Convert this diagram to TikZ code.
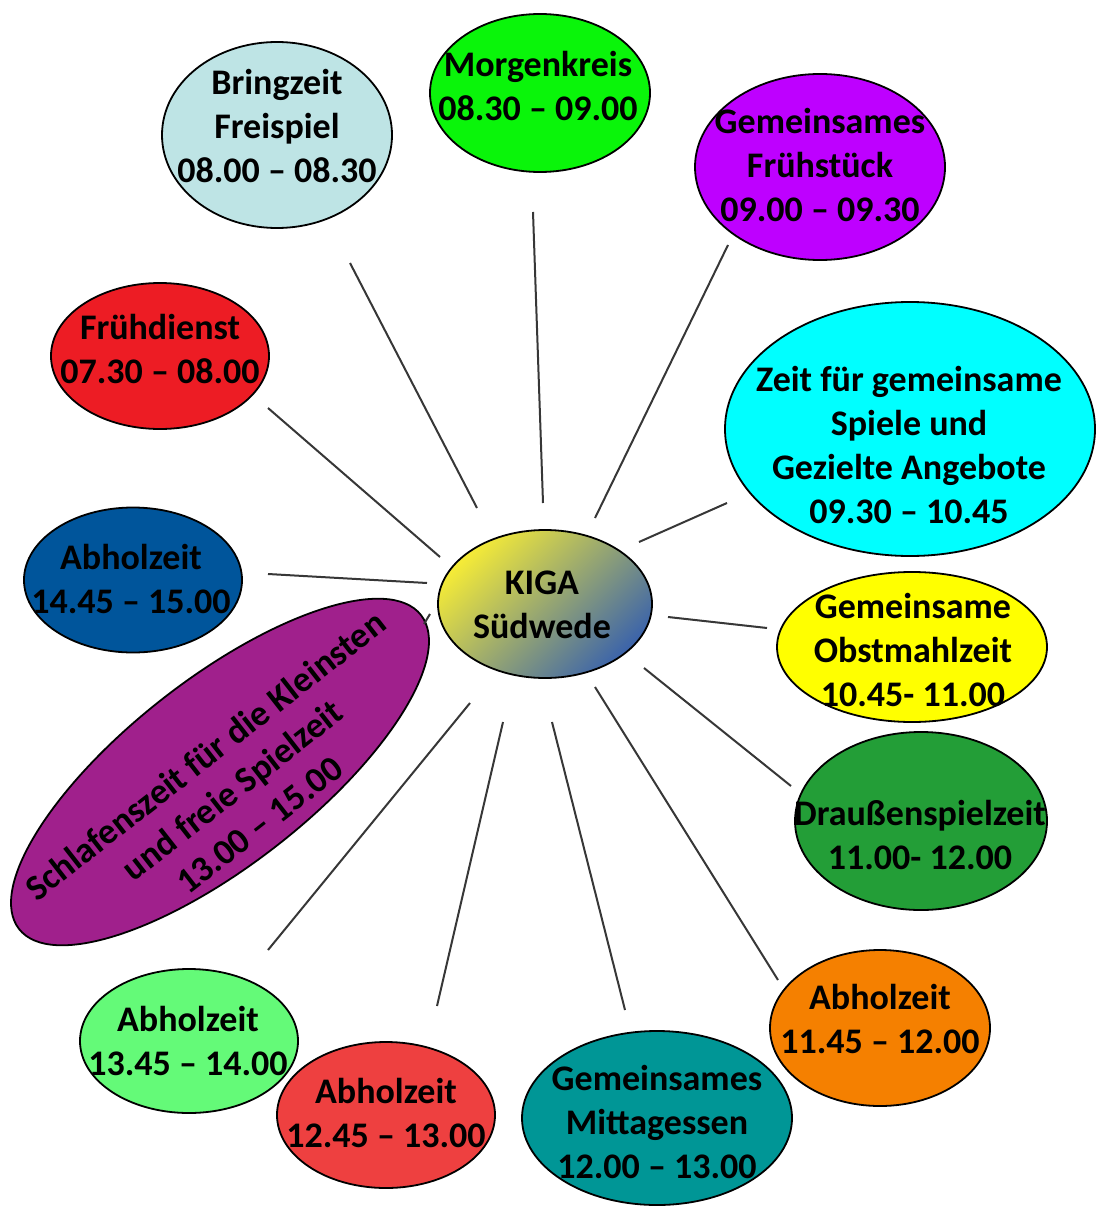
\documentclass[tikz,border=0pt]{standalone}
\usepackage{fontspec}
\setmainfont{Carlito}
\usetikzlibrary{shapes.geometric}
\definecolor{cBring}{RGB}{190,228,229}
\definecolor{cMorgen}{RGB}{10,245,10}
\definecolor{cFrueh}{RGB}{190,0,255}
\definecolor{cZeit}{RGB}{0,255,255}
\definecolor{cObst}{RGB}{255,255,0}
\definecolor{cDraussen}{RGB}{35,158,55}
\definecolor{cAbOrange}{RGB}{245,128,0}
\definecolor{cMittag}{RGB}{0,150,150}
\definecolor{cAbRed}{RGB}{238,64,64}
\definecolor{cAbGreen}{RGB}{100,250,120}
\definecolor{cSchlaf}{RGB}{160,32,140}
\definecolor{cAbBlue}{RGB}{0,85,155}
\definecolor{cFruehdienst}{RGB}{237,28,36}
\definecolor{cKigaY}{RGB}{245,235,55}
\definecolor{cKigaM}{RGB}{210,205,115}
\definecolor{cKigaB}{RGB}{60,100,170}
\definecolor{cLine}{RGB}{55,55,55}
\begin{document}
\begin{tikzpicture}[x=1pt,y=-1pt,
  bub/.style={ellipse, draw=black, line width=1.8pt, inner sep=0pt, outer sep=0pt},
  lbl/.style={align=center, inner sep=0pt, text=black, font=\fontsize{36}{44}\selectfont\bfseries},
  conn/.style={draw=cLine, line width=2pt}]
\useasboundingbox (0,0) rectangle (1095,1206);

% bubbles
\node[bub, fill=cBring, minimum width=230pt, minimum height=186pt] (bring) at (277,135) {};
\node[bub, fill=cMorgen, minimum width=220pt, minimum height=158pt] (morgen) at (540,93) {};
\node[bub, fill=cFrueh, minimum width=250pt, minimum height=186pt] (frueh) at (820,167) {};
\node[bub, fill=cZeit, minimum width=370pt, minimum height=254pt] (zeit) at (910,429) {};
\node[bub, fill=cObst, minimum width=270pt, minimum height=150pt] (obst) at (912,647) {};
\node[bub, fill=cDraussen, minimum width=252pt, minimum height=178pt] (draussen) at (921,821) {};
\node[bub, fill=cAbOrange, minimum width=220pt, minimum height=156pt] (ab1145) at (880,1028) {};
\node[bub, fill=cMittag, minimum width=270pt, minimum height=174pt] (mittag) at (657,1118) {};
\node[bub, fill=cAbRed, minimum width=218pt, minimum height=146pt] (ab1245) at (386,1115) {};
\node[bub, fill=cAbGreen, minimum width=218pt, minimum height=144pt] (ab1345) at (189,1041) {};
\node[bub, fill=cSchlaf, minimum width=510pt, minimum height=186pt, rotate=38] (schlaf) at (220,772) {};
\node[bub, fill=cAbBlue, minimum width=218pt, minimum height=145pt] (ab1445) at (133,580) {};
\node[bub, fill=cFruehdienst, minimum width=218pt, minimum height=146pt] (fruehdienst) at (160,356) {};
\node[bub, top color=cKigaY, middle color=cKigaM, bottom color=cKigaB, shading angle=45,
      minimum width=214pt, minimum height=148pt] (kiga) at (545,604) {};

% texts
\node[lbl] (tbring) at (277,126) {Bringzeit\\Freispiel\\08.00 – 08.30};
\node[lbl] (tmorgen) at (538,86) {Morgenkreis\\08.30 – 09.00};
\node[lbl] (tfrueh) at (820,165) {Gemeinsames\\Frühstück\\09.00 – 09.30};
\node[lbl] (tzeit) at (909,445) {Zeit für gemeinsame\\Spiele und\\Gezielte Angebote\\09.30 – 10.45};
\node[lbl] (tobst) at (913,650) {Gemeinsame\\Obstmahlzeit\\10.45- 11.00};
\node[lbl] (tdraussen) at (920,835) {Draußenspielzeit\\11.00- 12.00};
\node[lbl] (tab1145) at (880,1019) {Abholzeit\\11.45 – 12.00};
\node[lbl] (tmittag) at (657,1122) {Gemeinsames\\Mittagessen\\12.00 – 13.00};
\node[lbl] (tab1245) at (386,1113) {Abholzeit\\12.45 – 13.00};
\node[lbl] (tab1345) at (188,1041) {Abholzeit\\13.45 – 14.00};
\node[lbl, rotate=38] (tschlaf) at (232,790) {Schlafenszeit für die Kleinsten\\und freie Spielzeit\\13.00 – 15.00};
\node[lbl] (tab1445) at (131,579) {Abholzeit\\14.45 – 15.00};
\node[lbl] (tfruehdienst) at (160,349) {Frühdienst\\07.30 – 08.00};
\node[lbl] (tkiga) at (542,605) {KIGA\\Südwede};

% connector end points
\coordinate (a1) at (440,557);  \coordinate (b1) at (268,408);
\coordinate (a2) at (477,508);  \coordinate (b2) at (350,263);
\coordinate (a3) at (543,503);  \coordinate (b3) at (533,212);
\coordinate (a4) at (595,518);  \coordinate (b4) at (728,245);
\coordinate (a5) at (639,542);  \coordinate (b5) at (727,503);
\coordinate (a6) at (668,617);  \coordinate (b6) at (767,628);
\coordinate (a7) at (644,668);  \coordinate (b7) at (791,786);
\coordinate (a8) at (595,687);  \coordinate (b8) at (778,980);
\coordinate (a9) at (552,722);  \coordinate (b9) at (625,1010);
\coordinate (a10) at (503,722); \coordinate (b10) at (437,1006);
\coordinate (a11) at (470,703); \coordinate (b11) at (268,950);
\coordinate (a12) at (430,614); \coordinate (b12) at (424,624);
\coordinate (a13) at (427,583); \coordinate (b13) at (268,574);

\foreach \i in {1,...,13} { \draw[conn] (a\i) -- (b\i); }
\end{tikzpicture}
\end{document}
